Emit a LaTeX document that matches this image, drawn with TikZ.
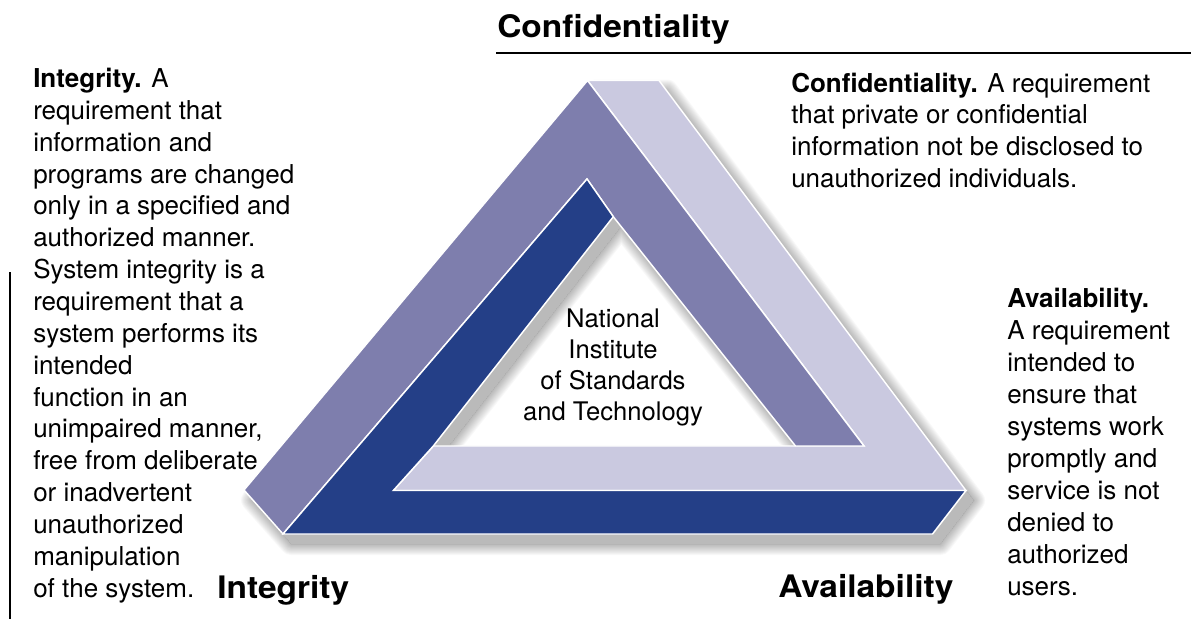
\documentclass[tikz,border=0pt]{standalone}
\usepackage{fontspec}
\setmainfont{TeX Gyre Heros}
\newfontfamily\labelfont[FakeStretch=1.08]{TeX Gyre Heros}
\definecolor{pur}{HTML}{7E7EAD}
\definecolor{lav}{HTML}{CAC9E0}
\definecolor{nav}{HTML}{243F87}
\begin{document}
\begin{tikzpicture}[x=0.75pt,y=-0.75pt,
  face/.style={draw=white, line width=1.1pt, line join=miter},
  body/.style={font=\fontsize{19.5pt}{24pt}\selectfont, inner sep=0pt, anchor=base west},
  nist/.style={font=\fontsize{19.2pt}{24pt}\selectfont, inner sep=0pt, anchor=base},
  lbl/.style={font=\labelfont\bfseries\fontsize{23.25pt}{28pt}\selectfont, inner sep=0pt, anchor=base west},
  rulestyle/.style={line width=1.5pt}]
\useasboundingbox (0,0) rectangle (1191,619);

% key points of the impossible triangle (pixel coordinates)
\coordinate (A) at (587.5,80.5);
\coordinate (B) at (659,80.5);
\coordinate (C) at (966,490.5);
\coordinate (D) at (932.5,534);
\coordinate (E) at (283,534);
\coordinate (F) at (244,490);
\coordinate (G) at (587,179);
\coordinate (H) at (613.3,216.7);
\coordinate (I) at (433.3,446);
\coordinate (J) at (393.3,490.5);
\coordinate (K) at (864,446);
\coordinate (L) at (795.5,446);

% soft drop shadow
\def\outerp{(244,490)--(587.5,80.5)--(659,80.5)--(966,490.5)--(932.5,534)--(283,534)--cycle}
\def\holep{(613.3,216.7)--(795.5,446)--(433.3,446)--cycle}
\begin{scope}[shift={(8,10)}]
  \fill[black, opacity=0.27, even odd rule] \outerp \holep;
  \begin{scope}[even odd rule]
    \clip (-100,-100) rectangle (1300,800) \outerp \holep;
    \foreach \w in {2,4,...,22}
      \draw[black, opacity=0.028, line width=\w*0.75pt, line join=round] \outerp \holep;
  \end{scope}
\end{scope}

% faces
\filldraw[face, fill=lav] (A) -- (B) -- (C) -- (J) -- (I) -- (K) -- cycle;
\filldraw[face, fill=pur] (F) -- (A) -- (K) -- (L) -- (H) -- (G) -- (E) -- cycle;
\filldraw[face, fill=nav] (G) -- (H) -- (I) -- (J) -- (C) -- (D) -- (E) -- cycle;

% rules
\coordinate (r1) at (496,53);
\coordinate (r2) at (1191,53);
\coordinate (v1) at (10,272);
\coordinate (v2) at (10,619);
\draw[rulestyle] (r1) -- (r2);
\draw[rulestyle] (v1) -- (v2);

% headings / labels
\node[lbl] (hconf) at (497,37) {Confidentiality};
\node[lbl] (hint) at (217,598) {Integrity};
\node[lbl] (havail) at (778,597) {Availability};

% integrity text
\foreach \t [count=\i from 0] in {{\textbf{Integrity.} A},{requirement that},{information and},
  {programs are changed},{only in a specified and},{authorized manner.},{System integrity is a},
  {requirement that a},{system performs its},{intended},{function in an},{unimpaired manner,},
  {free from deliberate},{or inadvertent},{unauthorized},{manipulation},{of the system.}}
  \node[body] (int\i) at (33,{87.5+31.85*\i}) {\t};

% confidentiality text
\foreach \t [count=\i from 0] in {{\textbf{Confidentiality.} A requirement},{that private or confidential},
  {information not be disclosed to},{unauthorized individuals.}}
  \node[body] (conf\i) at (791,{92+31.85*\i}) {\t};

% availability text
\foreach \t [count=\i from 0] in {{\textbf{Availability.}},{A requirement},{intended to},{ensure that},
  {systems work},{promptly and},{service is not},{denied to},{authorized},{users.}}
  \node[body] (avail\i) at (1007,{307+32*\i}) {\t};

% NIST
\foreach \t [count=\i from 0] in {{National},{Institute},{of Standards},{and Technology}}
  \node[nist] (nist\i) at (613,{327+31.3*\i}) {\t};
\end{tikzpicture}
\end{document}
